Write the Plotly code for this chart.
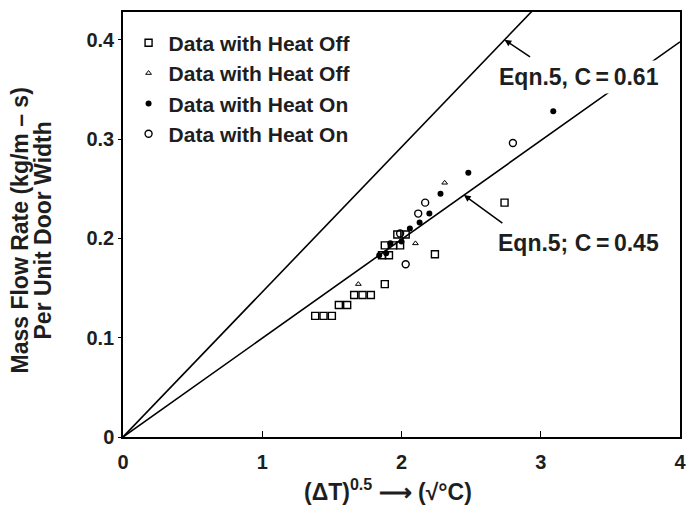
import plotly.graph_objects as go

# ---- data ----
off_sq_x = [1.38, 1.44, 1.50, 1.55, 1.61, 1.66, 1.72, 1.78, 1.88, 1.86, 1.91, 1.88, 1.94, 1.99, 1.97, 2.03, 2.24, 2.74]
off_sq_y = [0.122, 0.122, 0.122, 0.133, 0.133, 0.143, 0.143, 0.143, 0.154, 0.183, 0.183, 0.193, 0.193, 0.193, 0.204, 0.204, 0.184, 0.236]

off_dot_x = [1.69, 2.10, 2.31]
off_dot_y = [0.154, 0.195, 0.256]

on_fill_x = [1.84, 1.89, 1.92, 2.00, 2.06, 2.13, 2.20, 2.28, 2.48, 3.09]
on_fill_y = [0.183, 0.185, 0.195, 0.197, 0.210, 0.216, 0.225, 0.245, 0.266, 0.328]

on_open_x = [2.03, 1.99, 2.12, 2.17, 2.80]
on_open_y = [0.174, 0.205, 0.225, 0.236, 0.296]

eqn_x = [0, 4]
eqn061_y = [0, 0.584]
eqn045_y = [0, 0.398]

x_ticks = [0, 1, 2, 3, 4]
y_ticks = [0, 0.1, 0.2, 0.3, 0.4]
y_ticklabels = ["0", "0.1", "0.2", "0.3", "0.4"]

FONT = "Liberation Sans, Arial, sans-serif"
INK = "#1e1e1e"

fig = go.Figure()
fig.add_trace(go.Scatter(x=eqn_x, y=eqn061_y, mode="lines", line=dict(color="black", width=1.6),
                         showlegend=False, hoverinfo="skip"))
fig.add_trace(go.Scatter(x=eqn_x, y=eqn045_y, mode="lines", line=dict(color="black", width=1.6),
                         showlegend=False, hoverinfo="skip"))

fig.add_trace(go.Scatter(x=off_sq_x, y=off_sq_y, mode="markers", name="Data with Heat Off",
                         marker=dict(symbol="square-open", size=7, color="black", line=dict(width=1.4))))
fig.add_trace(go.Scatter(x=off_dot_x, y=off_dot_y, mode="markers", name="Data with Heat Off",
                         marker=dict(symbol="triangle-up-open", size=5, color="black", line=dict(width=1))))
fig.add_trace(go.Scatter(x=on_fill_x, y=on_fill_y, mode="markers", name="Data with Heat On",
                         marker=dict(symbol="circle", size=6, color="black")))
fig.add_trace(go.Scatter(x=on_open_x, y=on_open_y, mode="markers", name="Data with Heat On",
                         marker=dict(symbol="circle-open", size=7, color="black", line=dict(width=1.4))))

fig.update_layout(
    width=696, height=513,
    margin=dict(l=123, r=11, t=10, b=76),
    paper_bgcolor="white", plot_bgcolor="white",
    font=dict(family=FONT, color=INK, size=17),
    legend=dict(x=0.01, y=0.975, xanchor="left", yanchor="top", bgcolor="rgba(0,0,0,0)",
                font=dict(size=21, weight=700, color=INK), itemsizing="trace",
                tracegroupgap=0, itemwidth=30),
)
fig.update_xaxes(range=[0, 4], tickvals=x_ticks, ticktext=[str(v) for v in x_ticks],
                 ticks="inside", ticklen=6, tickcolor="black", showgrid=False, zeroline=False,
                 showline=True, linecolor="black", linewidth=1.5, mirror=True,
                 ticklabelstandoff=6,
                 tickfont=dict(size=20, weight=700, color=INK))
fig.update_yaxes(range=[0, 0.428], tickvals=y_ticks, ticktext=y_ticklabels,
                 ticks="outside", ticklen=3, tickcolor="black", showgrid=False, zeroline=False,
                 showline=True, linecolor="black", linewidth=1.5, mirror=True,
                 tickfont=dict(size=20, weight=700, color=INK))

# y-axis title (two lines)
fig.add_annotation(xref="paper", yref="paper", x=0, y=0.5, xshift=-104, yshift=-6,
                   xanchor="center", yanchor="middle", textangle=-90, showarrow=False,
                   text="Mass Flow Rate (kg/m \u2013 s)", font=dict(size=23, weight=700, color=INK))
fig.add_annotation(xref="paper", yref="paper", x=0, y=0.5, xshift=-81, yshift=-6,
                   xanchor="center", yanchor="middle", textangle=-90, showarrow=False,
                   text="Per Unit Door Width", font=dict(size=23, weight=700, color=INK))

# equation labels
fig.add_annotation(xref="paper", yref="paper", x=(583 - 123) / 562, y=(437 - 75) / 427,
                   xanchor="center", yanchor="middle", showarrow=False, bgcolor="white", borderpad=3,
                   text="Eqn.5, C\u2009=\u20090.61", font=dict(size=23, weight=700, color=INK))
fig.add_annotation(xref="paper", yref="paper", x=(583 - 123) / 562, y=(437 - 242) / 427,
                   xanchor="center", yanchor="middle", showarrow=False, bgcolor="white", borderpad=3,
                   text="Eqn.5; C\u2009=\u20090.45", font=dict(size=23, weight=700, color=INK))
# leader arrows
fig.add_annotation(x=2.74, y=0.400, ax=27, ay=18, text="", showarrow=True,
                   arrowhead=2, arrowsize=0.9, arrowwidth=1.5, arrowcolor="black")
fig.add_annotation(x=2.448, y=0.2436, ax=40, ay=29, text="", showarrow=True,
                   arrowhead=2, arrowsize=0.9, arrowwidth=1.5, arrowcolor="black")

# x-axis title
fig.add_annotation(xref="paper", yref="paper", x=(390 - 123) / 562, y=-0.125,
                   xanchor="center", yanchor="middle", showarrow=False,
                   text="(\u0394T)<sup>0.5</sup> \u27f6 (\u221a\u00b0C)",
                   font=dict(size=23, weight=700, color=INK))

fig.write_html("out.html", config={"displayModeBar": False},
               post_script="document.body.style.margin='0';")
